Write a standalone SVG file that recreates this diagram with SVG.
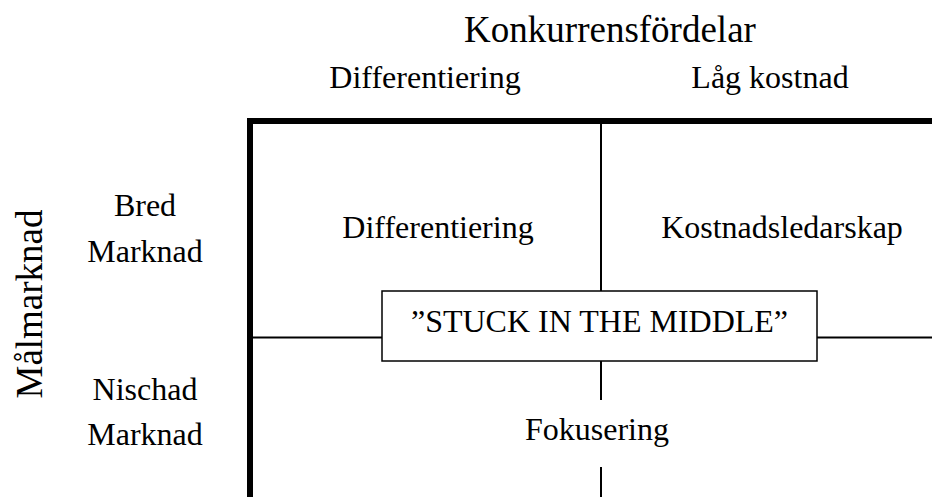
<svg xmlns="http://www.w3.org/2000/svg" width="932" height="497" viewBox="0 0 932 497">
<style>
text{font-family:"Liberation Serif","Times New Roman",serif;fill:#000;text-anchor:middle}
.t{font-size:32px}
.h{font-size:37px}
.thick{stroke:#000;stroke-width:6;fill:none}
.thin{stroke:#000;stroke-width:2;fill:none}
</style>
<rect width="932" height="497" fill="#fff"/>
<g id="connectors">
<path class="thick" d="M250 497V121H932"/>
<path class="thin" d="M601 121V291M601 361V400M601 467V497"/>
<path class="thin" d="M253 337.5H382M817 337.5H932"/>
</g>
<g id="title"><text class="h" x="610" y="42">Konkurrensfördelar</text></g>
<g id="col-diff"><text class="t" x="425" y="88">Differentiering</text></g>
<g id="col-cost"><text class="t" x="770" y="88">Låg kostnad</text></g>
<g id="axis-y"><text class="h" transform="translate(42 304) rotate(-90)">Målmarknad</text></g>
<g id="row-broad"><text class="t" x="145" y="216">Bred</text><text class="t" x="145" y="262">Marknad</text></g>
<g id="row-niche"><text class="t" x="145" y="400">Nischad</text><text class="t" x="145" y="445">Marknad</text></g>
<g id="q-diff"><text class="t" x="438" y="238">Differentiering</text></g>
<g id="q-cost"><text class="t" x="782" y="238">Kostnadsledarskap</text></g>
<g id="q-focus"><text class="t" x="597" y="440">Fokusering</text></g>
<g id="stuck">
<rect x="382" y="291" width="435" height="70" fill="#fff" stroke="#000" stroke-width="1.5"/>
<text class="t" x="599.5" y="332">”STUCK IN THE MIDDLE”</text>
</g>
</svg>
